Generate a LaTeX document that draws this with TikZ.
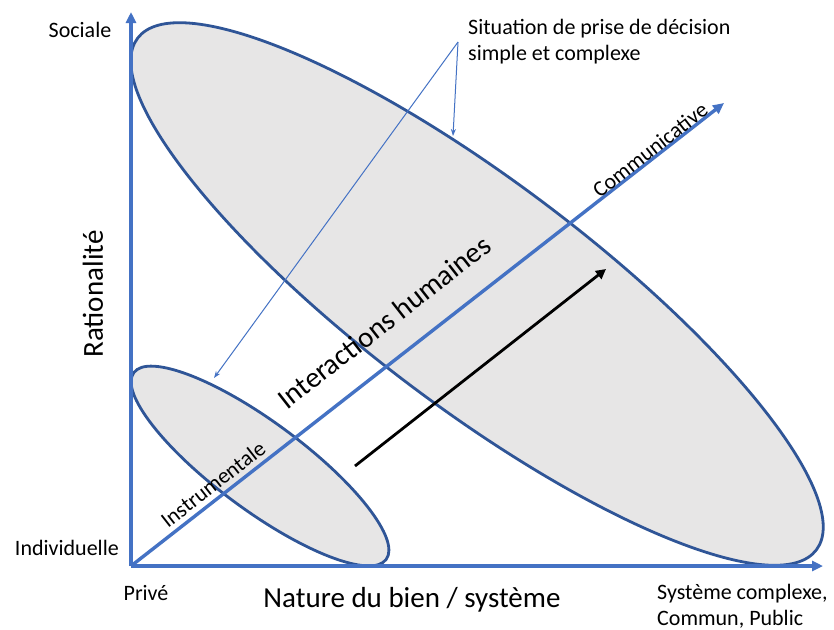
\documentclass[tikz,border=0pt]{standalone}
\usepackage{fontspec}
\setmainfont{Carlito}
\usetikzlibrary{arrows.meta,shapes.geometric}
\definecolor{axblue}{HTML}{4472C4}
\definecolor{elblue}{HTML}{2F5597}
\definecolor{elfill}{HTML}{E7E6E6}
\begin{document}
\begin{tikzpicture}[x=1pt,y=-1pt,
  axis/.style={draw=axblue, line width=3.4pt, -{Triangle[length=11pt,width=10pt]}},
  bubble/.style={ellipse, draw=elblue, line width=2.8pt, fill=elfill, inner sep=0pt},
  pointer/.style={draw=axblue, line width=1pt, -{Stealth[length=7pt,width=5pt]}},
  blackarrow/.style={draw=black, line width=2.8pt, -{Triangle[length=10pt,width=10pt]}},
  lbl/.style={font=\fontsize{22}{26}\selectfont, inner sep=0pt},
  biglbl/.style={font=\fontsize{29}{34}\selectfont, inner sep=0pt}]
\useasboundingbox (0,0) rectangle (834,629);
\fill[white] (0,0) rectangle (834,629);
% ellipses
\node[bubble, minimum width=850pt, minimum height=226pt, rotate=-37] (big) at (477,294) {};
\node[bubble, minimum width=314pt, minimum height=88pt, rotate=-36.5] (small) at (260,466) {};
% axes
\coordinate (O) at (131,566);
\coordinate (ytip) at (131,12);
\coordinate (xtip) at (823,566);
\coordinate (dtip) at (724,103);
\draw[axis] (O) -- (ytip);
\draw[axis] (O) -- (xtip);
\draw[axis] (O) -- (dtip);
% pointers
\coordinate (pv) at (458,42);
\coordinate (p1) at (453,136);
\coordinate (p2) at (214,378);
\draw[pointer] (pv) -- (p1);
\draw[pointer] (pv) -- (p2);
% black arrow
\coordinate (b1) at (355,466);
\coordinate (b2) at (606,269);
\draw[blackarrow] (b1) -- (b2);
% labels
\node[lbl] (soc) at (80,30) {Sociale};
\node[lbl, anchor=east] (ind) at (119,548) {Individuelle};
\node[lbl] (priv) at (146,593) {Privé};
\node[lbl, anchor=west, align=left] (sys) at (657,606) {Système complexe,\\Commun, Public};
\node[lbl, anchor=west, align=left] (sit) at (468,42) {Situation de prise de décision\\simple et complexe};
\node[biglbl, rotate=90] (rat) at (93,294) {Rationalité};
\node[biglbl] (nat) at (412,600) {Nature du bien / système};
\node[lbl, rotate=38] (comm) at (650,150) {Communicative};
\node[lbl, rotate=38] (instr) at (213,484) {Instrumentale};
\node[biglbl, rotate=38] (inter) at (384,322) {Interactions humaines};
\end{tikzpicture}
\end{document}
